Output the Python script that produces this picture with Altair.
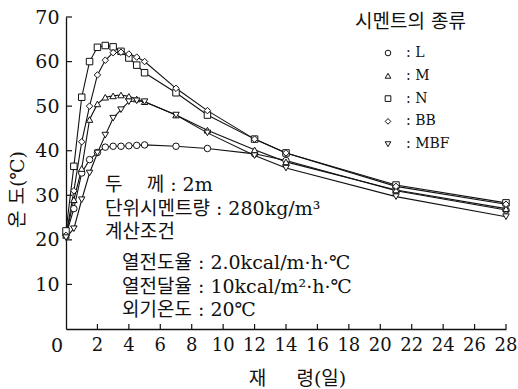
import altair as alt
import pandas as pd

# ---- data ----
days = [0, 0.5, 1, 1.5, 2, 2.5, 3, 3.5, 4, 4.5, 5, 7, 9, 12, 14, 21, 28]
cements = ["L", "M", "N", "BB", "MBF"]
temp_L = [21, 27, 35, 38, 39.6, 40.8, 41, 41, 41.1, 41.2, 41.3, 41, 40.5, 39.3, 37.8, 31, 26.7]
temp_M = [21, 29, 36, 47, 50.5, 52, 52.3, 52.5, 52.2, 51.6, 51, 48, 44.6, 40.2, 37.5, 31.2, 27]
temp_N = [22, 36.5, 52, 60, 63.2, 63.6, 63.3, 62.3, 60.8, 59.2, 57.5, 53, 48, 42.6, 39.5, 32.3, 28.3]
temp_BB = [21, 31, 42, 50, 57, 60.3, 62, 62.1, 61.7, 61, 60, 54, 49, 42.6, 39.5, 32, 28]
temp_MBF = [20.5, 22.5, 29, 35, 39.5, 43.5, 47.3, 49.2, 51, 51.2, 51, 48, 44, 38.9, 36.1, 29.7, 25.2]
series = [temp_L, temp_M, temp_N, temp_BB, temp_MBF]
shapes = ["circle", "triangle-up", "square", "diamond", "triangle-down"]

x_tick_labels = list(range(0, 29, 2))
y_tick_labels = list(range(0, 71, 10))

NB = "\u00a0"
notes_top = [f"두{NB*4}께{NB}: 2m", "단위시멘트량 : 280kg/m³", "계산조건"]
notes_sub = ["열전도율 : 2.0kcal/m·h·℃", "열전달율 : 10kcal/m²·h·℃", "외기온도 : 20℃"]

x_title = f"재{NB*5}령(일)"
y_title = f"온{NB}도(℃)"
legend_title = "시멘트의 종류"

# ---- build tables ----
rows = []
for name, vals in zip(cements, series):
    for d, t in zip(days, vals):
        rows.append({"day": d, "temp": t, "cement": name})
df = pd.DataFrame(rows)

INK = "#111111"
NUM = "DejaVu Serif"
KR = "DejaVu Serif, Noto Sans CJK KR"

xs = alt.Scale(domain=[0, 28], nice=False)
ys = alt.Scale(domain=[0, 70], nice=False)
shape_scale = alt.Scale(domain=cements, range=shapes)

x_axis = alt.Axis(values=x_tick_labels[1:], ticks=False, grid=False, labels=False,
                  domainColor=INK, domainWidth=1.3,
                  title=x_title, titleFont=KR, titleFontSize=19, titleFontWeight="normal",
                  titleColor=INK, titleX=231, titleY=49, titleBaseline="middle", titleAlign="center")
y_axis = alt.Axis(values=y_tick_labels[1:], ticks=False, grid=False, labelOverlap=False,
                  domainColor=INK, domainWidth=1.3,
                  labelFont=NUM, labelFontSize=19, labelColor=INK, labelPadding=7,
                  title=y_title, titleFont=KR, titleFontSize=19, titleFontWeight="normal",
                  titleColor=INK, titleX=-49, titleY=172, titleAngle=270,
                  titleBaseline="middle", titleAlign="center")

base = alt.Chart(df)
lines = base.mark_line(color=INK, strokeWidth=1.1).encode(
    x=alt.X("day:Q", scale=xs, axis=x_axis),
    y=alt.Y("temp:Q", scale=ys, axis=y_axis),
    detail="cement:N",
)
points = base.mark_point(filled=False, fill="white", stroke=INK, strokeWidth=1,
                         size=42, opacity=1).encode(
    x=alt.X("day:Q", scale=xs),
    y=alt.Y("temp:Q", scale=ys),
    shape=alt.Shape("cement:N", scale=shape_scale, legend=None),
)

# inward ticks and x tick labels
xt = pd.DataFrame({"day": x_tick_labels[1:], "lab": [str(v) for v in x_tick_labels[1:]]})
yt = pd.DataFrame({"temp": y_tick_labels[1:]})
xticks = alt.Chart(xt).mark_rule(color=INK, strokeWidth=1.2).encode(
    x=alt.X("day:Q", scale=xs), y=alt.value(312), y2=alt.value(307))
xlabels = alt.Chart(xt).mark_text(font=NUM, fontSize=18, color=INK, baseline="middle").encode(
    x=alt.X("day:Q", scale=xs), y=alt.value(329), text="lab:N")
yticks = alt.Chart(yt).mark_rule(color=INK, strokeWidth=1.2).encode(
    y=alt.Y("temp:Q", scale=ys), x=alt.value(0), x2=alt.value(6))

zero = alt.Chart(pd.DataFrame({"day": [x_tick_labels[0]], "temp": [y_tick_labels[0]],
                               "t": [str(x_tick_labels[0])]})).mark_text(
    font=NUM, fontSize=19, color=INK, dx=-9, dy=17, baseline="middle").encode(
    x=alt.X("day:Q", scale=xs), y=alt.Y("temp:Q", scale=ys), text="t:N")

layers = [lines, points, xticks, xlabels, yticks, zero]

# annotation block
for i, t in enumerate(notes_top):
    layers.append(alt.Chart(pd.DataFrame({"t": [t]})).mark_text(
        font=KR, fontSize=19, color=INK, align="left", baseline="middle").encode(
        x=alt.value(39), y=alt.value(168 + 23.5 * i), text="t:N"))
for i, t in enumerate(notes_sub):
    layers.append(alt.Chart(pd.DataFrame({"t": [t]})).mark_text(
        font=KR, fontSize=19, color=INK, align="left", baseline="middle").encode(
        x=alt.value(56), y=alt.value(246 + 23.5 * i), text="t:N"))

# hand-drawn legend
layers.append(alt.Chart(pd.DataFrame({"t": [legend_title]})).mark_text(
    font=KR, fontSize=19, color=INK, align="left", baseline="middle").encode(
    x=alt.value(289), y=alt.value(5), text="t:N"))
for i, (name, shp) in enumerate(zip(cements, shapes)):
    ly = 36 + 22.8 * i
    layers.append(alt.Chart(pd.DataFrame({"t": [name]})).mark_point(
        shape=shp, filled=False, fill="white", stroke=INK, strokeWidth=1,
        size=32, opacity=1).encode(x=alt.value(322), y=alt.value(ly)))
    layers.append(alt.Chart(pd.DataFrame({"t": [f":{NB}{name}"]})).mark_text(
        font=NUM, fontSize=14, color=INK, align="left", baseline="middle").encode(
        x=alt.value(340), y=alt.value(ly), text="t:N"))

chart = alt.layer(*layers).properties(
    width=440, height=312,
    autosize=alt.AutoSizeParams(type="none"),
    padding={"left": 66, "top": 17, "right": 12, "bottom": 60},
    background="white",
).configure_view(stroke=None)

chart.save("out.html", embed_options={"renderer": "svg", "actions": False})
